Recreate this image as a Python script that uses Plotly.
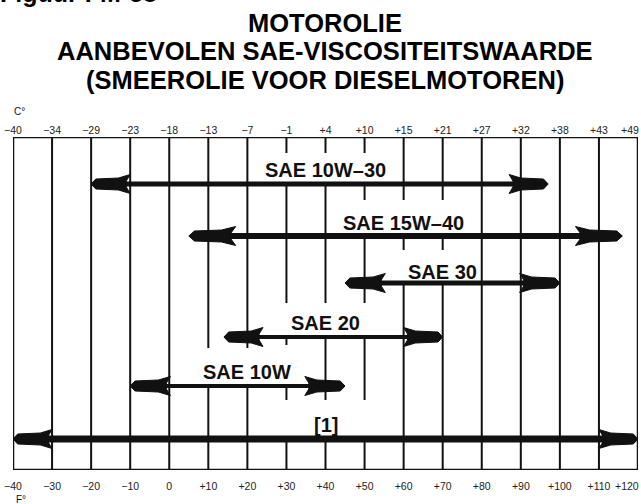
import plotly.graph_objects as go

# Recommended SAE viscosity grades and their ambient temperature range (°F)
grades = ["SAE 10W–30", "SAE 15W–40", "SAE 30", "SAE 20", "SAE 10W", "[1]"]
temp_low_f = [-20, 5, 45, 14, -10, -40]
temp_high_f = [97, 116, 100, 70, 45, 120]

# Scale ticks: Fahrenheit along the bottom, Celsius equivalents along the top
fahrenheit_ticks = [-40, -30, -20, -10, 0, 10, 20, 30, 40, 50, 60, 70, 80, 90, 100, 110, 120]
fahrenheit_labels = ["−40", "−30", "−20", "−10", "0", "+10", "+20", "+30", "+40",
                     "+50", "+60", "+70", "+80", "+90", "+100", "+110", "+120"]
celsius_labels = ["−40", "−34", "−29", "−23", "−18", "−13", "−7", "−1", "+4",
                  "+10", "+15", "+21", "+27", "+32", "+38", "+43", "+49"]

# ---- layout / styling -------------------------------------------------------
W, H = 641, 504
ML, MR, MT, MB = 13, 3, 137, 34
PH = H - MT - MB          # plot height in px; y axis runs in px from the top edge

row_y = [47, 99, 146, 200, 249, 302]           # vertical position of each arrow
shaft_w = [5, 6, 5, 4, 4, 7]                   # shaft thickness (px)
head_len_f = [10, 12, 10.3, 10, 10.3, 10]      # arrowhead length (°F)
label_xy = [(40, 33), (60, 86), (70, 135), (40, 186), (20, 235), (40, 288)]

# arrowhead outline: (fraction of head length from the tip, offset in px)
head_outline = [(0, 0), (0.12, -5), (0.7, -6), (1.0, -9.5), (0.9, -3),
                (0.9, 3), (1.0, 9.5), (0.7, 6), (0.12, 5), (0, 0)]

# vertical rules are interrupted around the grade labels
rule_segments = {
    10: [(0, 211), (250, PH)],
    20: [(0, 211), (250, PH)],
    30: [(0, 16), (48, 166), (200, 208), (249, 263), (301, PH)],
    40: [(0, 16), (48, 166), (200, 263), (301, PH)],
    50: [(0, 16), (48, 63), (100, 166), (200, 263), (301, PH)],
    60: [(0, 63), (100, 113), (146, PH)],
    70: [(0, 63), (100, 113), (146, PH)],
}

INK = "#111111"
FONT = "Liberation Sans, Arial, sans-serif"


def px_x(px):
    """page pixel column -> paper x"""
    return (px - ML) / (W - ML - MR)


def px_y(px):
    """page pixel row -> paper y"""
    return (H - MB - px) / PH


fig = go.Figure()

# grid rules
shapes = []
for f in fahrenheit_ticks:
    for y0, y1 in rule_segments.get(f, [(0, PH)]):
        shapes.append(dict(type="line", xref="x", yref="y", x0=f, x1=f, y0=y0, y1=y1,
                           line=dict(color=INK, width=2), layer="below"))
# outer frame
shapes.append(dict(type="rect", xref="x", yref="y", x0=-40, x1=120, y0=0, y1=PH,
                   line=dict(color=INK, width=2.5), layer="below"))

# double-headed arrows
for i, g in enumerate(grades):
    lo, hi, y = temp_low_f[i], temp_high_f[i], row_y[i]
    L = head_len_f[i]
    fig.add_trace(go.Scatter(
        x=[lo + 0.8 * L, hi - 0.8 * L], y=[y, y], mode="lines",
        line=dict(color=INK, width=shaft_w[i]), hoverinfo="skip", showlegend=False))
    for tip, d in ((lo, -1), (hi, 1)):
        xs = [tip - d * fx * L for fx, _ in head_outline]
        ys = [y + dy for _, dy in head_outline]
        fig.add_trace(go.Scatter(
            x=xs, y=ys, mode="lines", fill="toself", fillcolor=INK,
            line=dict(color=INK, width=1), hoverinfo="skip", showlegend=False))

# an invisible trace carries the Celsius scale on the top axis
fig.add_trace(go.Scatter(x=[-40, 120], y=[0, 0], xaxis="x2", mode="markers",
                         marker=dict(opacity=0), hoverinfo="skip", showlegend=False))

tick_font = dict(family=FONT, size=10.5, color="#222")

annotations = []
for i, g in enumerate(grades):
    lx, ly = label_xy[i]
    annotations.append(dict(x=lx, y=ly, xref="x", yref="y", text=f"<b>{g}</b>",
                            showarrow=False, font=dict(family=FONT, size=20, color=INK)))

# the right-most scale labels sit flush with the frame
annotations.append(dict(x=fahrenheit_ticks[-1], y=px_y(130), xref="x", yref="paper",
                        text=celsius_labels[-1], showarrow=False, xanchor="right",
                        yanchor="middle", xshift=3, font=tick_font))
annotations.append(dict(x=fahrenheit_ticks[-1], y=px_y(486), xref="x", yref="paper",
                        text=fahrenheit_labels[-1], showarrow=False, xanchor="right",
                        yanchor="middle", xshift=3, font=tick_font))

title_lines = ["MOTOROLIE", "AANBEVOLEN SAE-VISCOSITEITSWAARDE",
               "(SMEEROLIE VOOR DIESELMOTOREN)"]
for txt, ypx in zip(title_lines, [22.5, 51.5, 80]):
    annotations.append(dict(x=px_x(325), y=px_y(ypx), xref="paper", yref="paper",
                            text=f"<b>{txt}</b>", showarrow=False, xanchor="center",
                            yanchor="middle", font=dict(family=FONT, size=25.5, color="#000")))

annotations.append(dict(x=px_x(-2), y=px_y(-7), xref="paper", yref="paper",
                        text="<b>Figuur FM-58</b>", showarrow=False, xanchor="left",
                        yanchor="middle", font=dict(family=FONT, size=25, color="#000")))
annotations.append(dict(x=px_x(12), y=px_y(111), xref="paper", yref="paper",
                        text="C°", showarrow=False, xanchor="left", yanchor="middle",
                        font=dict(family=FONT, size=10, color=INK)))
annotations.append(dict(x=px_x(14), y=px_y(499), xref="paper", yref="paper",
                        text="F°", showarrow=False, xanchor="left", yanchor="middle",
                        font=dict(family=FONT, size=10, color=INK)))

fig.update_layout(
    width=W, height=H, margin=dict(l=ML, r=MR, t=MT, b=MB),
    paper_bgcolor="white", plot_bgcolor="white",
    shapes=shapes, annotations=annotations,
    xaxis=dict(range=[-40, 120], tickvals=fahrenheit_ticks[:-1],
               ticktext=fahrenheit_labels[:-1], ticklabelstandoff=8,
               showgrid=False, zeroline=False, showline=False, ticks="",
               tickfont=tick_font, fixedrange=True),
    xaxis2=dict(range=[-40, 120], overlaying="x", side="top",
                tickvals=fahrenheit_ticks[:-1], ticktext=celsius_labels[:-1],
                showgrid=False, zeroline=False, showline=False, ticks="",
                tickfont=tick_font, fixedrange=True),
    yaxis=dict(range=[PH, 0], visible=False, fixedrange=True),
)

fig.write_html("out.html")
